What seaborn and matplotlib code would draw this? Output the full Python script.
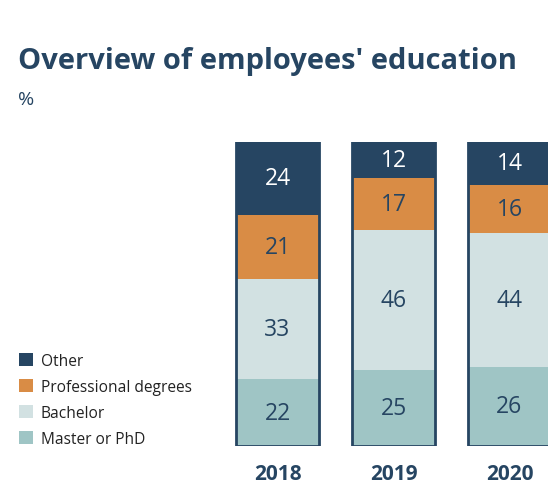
import matplotlib
matplotlib.use("Agg")
import matplotlib.pyplot as plt
from matplotlib.patches import Patch
import seaborn as sns
import pandas as pd
import numpy as np

sns.set_style("white")
plt.rcParams["font.family"] = ["Open Sans", "DejaVu Sans"]

# data (%)
years = ["2018", "2019", "2020"]
master = [22, 25, 26]
bachelor = [33, 46, 44]
professional = [21, 17, 16]
other = [24, 12, 14]

categories = ["Master or PhD", "Bachelor", "Professional degrees", "Other"]
colors = {
    "Master or PhD": "#9fc5c5",
    "Bachelor": "#d2e1e2",
    "Professional degrees": "#d98c45",
    "Other": "#264562",
}
text_colors = {
    "Master or PhD": "#264562",
    "Bachelor": "#264562",
    "Professional degrees": "#264562",
    "Other": "white",
}
NAVY = "#264562"

df = pd.DataFrame({"year": years, "Master or PhD": master, "Bachelor": bachelor,
                   "Professional degrees": professional, "Other": other})
cum = df[categories].cumsum(axis=1)

fig = plt.figure(figsize=(5.48, 4.85), dpi=100)
ax = fig.add_axes([220 / 548, 38 / 485, 328 / 548, 304 / 485])

BAR_W = 0.716
# draw cumulative totals from the top layer down so the stack shows through
for cat in reversed(categories):
    sns.barplot(x=df["year"], y=cum[cat], color=colors[cat], width=BAR_W,
                saturation=1, linewidth=0, ax=ax)

# outline around each whole stack
sns.barplot(x=df["year"], y=cum["Other"], width=BAR_W, saturation=1,
            facecolor="none", edgecolor=NAVY, linewidth=2, ax=ax)

# value labels in the middle of each segment
for i in range(len(years)):
    bottom = 0
    for cat in categories:
        v = df[cat][i]
        ax.text(i, bottom + v / 2, str(v), ha="center", va="center",
                fontsize=16.5, color=text_colors[cat])
        bottom += v

ax.set_xlim(-0.496, 2.332)
ax.set_ylim(0, 100)
ax.set_xlabel("")
ax.set_ylabel("")
ax.set_yticks([])
ax.tick_params(axis="x", length=0, pad=12, labelsize=15, labelcolor=NAVY)
for lbl in ax.get_xticklabels():
    lbl.set_fontweight("bold")
for s in ax.spines.values():
    s.set_visible(False)

fig.text(18 / 548, 1 - 61 / 485, "Overview of employees' education", fontsize=21,
         fontweight="bold", color=NAVY, va="center", ha="left")
fig.text(18 / 548, 1 - 100 / 485, "%", fontsize=14, color=NAVY, va="center", ha="left")

handles = [Patch(facecolor=colors[c], edgecolor="none", label=c) for c in reversed(categories)]
fig.legend(handles=handles, loc="upper left", bbox_to_anchor=(5 / 548, 1 - 340 / 485),
           frameon=False, fontsize=11.2, handlelength=0.9, handleheight=0.9,
           handletextpad=0.5, labelspacing=0.64, labelcolor="#222222")

fig.savefig("out.png", dpi=100)
